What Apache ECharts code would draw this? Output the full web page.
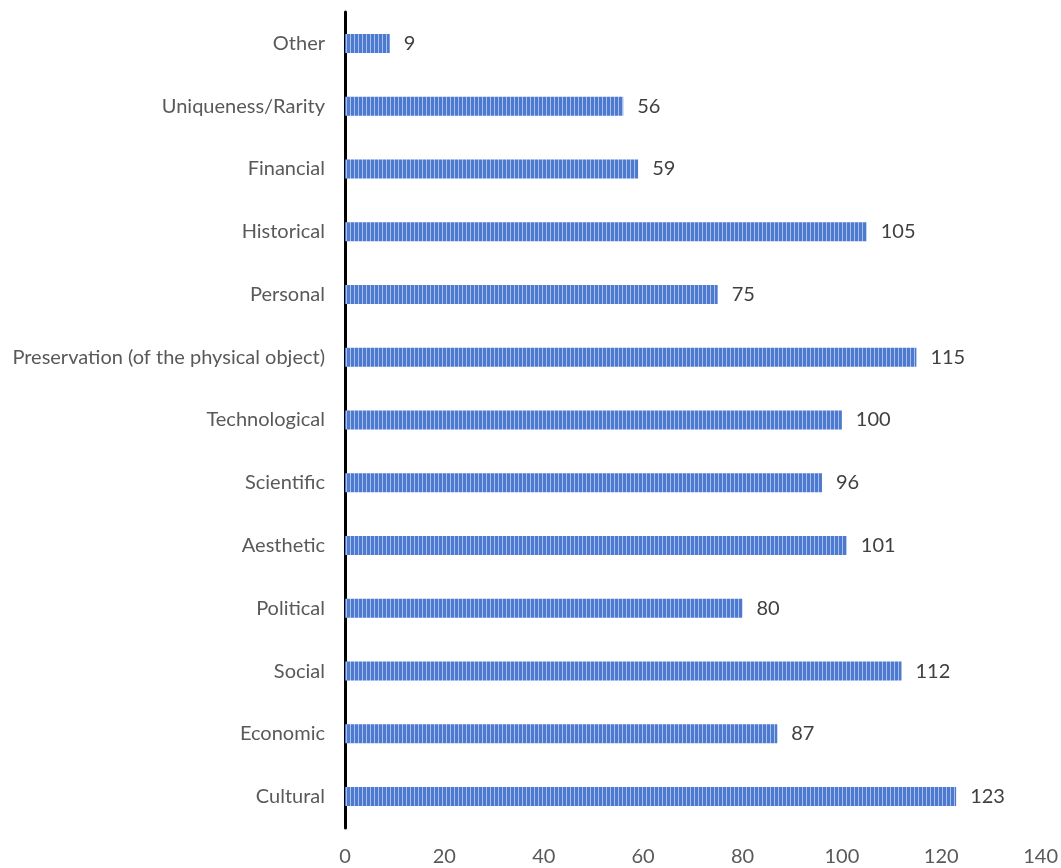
<!DOCTYPE html>
<html>
<head>
<meta charset="utf-8">
<script src="https://cdn.jsdelivr.net/npm/echarts@6/dist/echarts.min.js"></script>
<style>
  html, body { margin: 0; padding: 0; background: #fff; }
  #chart { width: 1061px; height: 868px; }
</style>
</head>
<body>
<div id="chart"></div>
<script>
const categories = ['Cultural', 'Economic', 'Social', 'Political', 'Aesthetic', 'Scientific', 'Technological',
  'Preservation (of the physical object)', 'Personal', 'Historical', 'Financial', 'Uniqueness/Rarity', 'Other']
const values = [123, 87, 112, 80, 101, 96, 100, 115, 75, 105, 59, 56, 9]
const xTicks = [0, 20, 40, 60, 80, 100, 120, 140]

// striped fill like the original
function makeStripes() {
  const c = document.createElement('canvas')
  c.width = 4
  c.height = 4
  const ctx = c.getContext('2d')
  ctx.fillStyle = '#4d79cf'
  ctx.fillRect(0, 0, 4, 4)
  ctx.fillStyle = '#a9c0ec'
  ctx.fillRect(2, 0, 1, 4)
  return c
}

const font = 'Lato, sans-serif'
const chart = echarts.init(document.getElementById('chart'))
chart.setOption({
  animation: false,
  grid: { left: 345, right: 20, top: 12, bottom: 40, containLabel: false },
  xAxis: {
    type: 'value',
    min: xTicks[0],
    max: xTicks[xTicks.length - 1],
    interval: 20,
    axisLine: { show: false },
    axisTick: { show: false },
    splitLine: { show: false },
    axisLabel: { color: '#595959', fontSize: 20, fontFamily: font, margin: 19 }
  },
  yAxis: {
    type: 'category',
    data: categories,
    axisLine: { show: true, lineStyle: { color: '#000', width: 3 } },
    axisTick: { show: false },
    axisLabel: { color: '#595959', fontSize: 20, fontFamily: font, margin: 20 }
  },
  series: [{
    type: 'bar',
    data: values,
    barWidth: 19,
    itemStyle: { color: { image: makeStripes(), repeat: 'repeat' } },
    label: {
      show: true,
      position: 'right',
      distance: 14,
      color: '#404040',
      fontSize: 20,
      fontFamily: font
    }
  }]
})
</script>
</body>
</html>
